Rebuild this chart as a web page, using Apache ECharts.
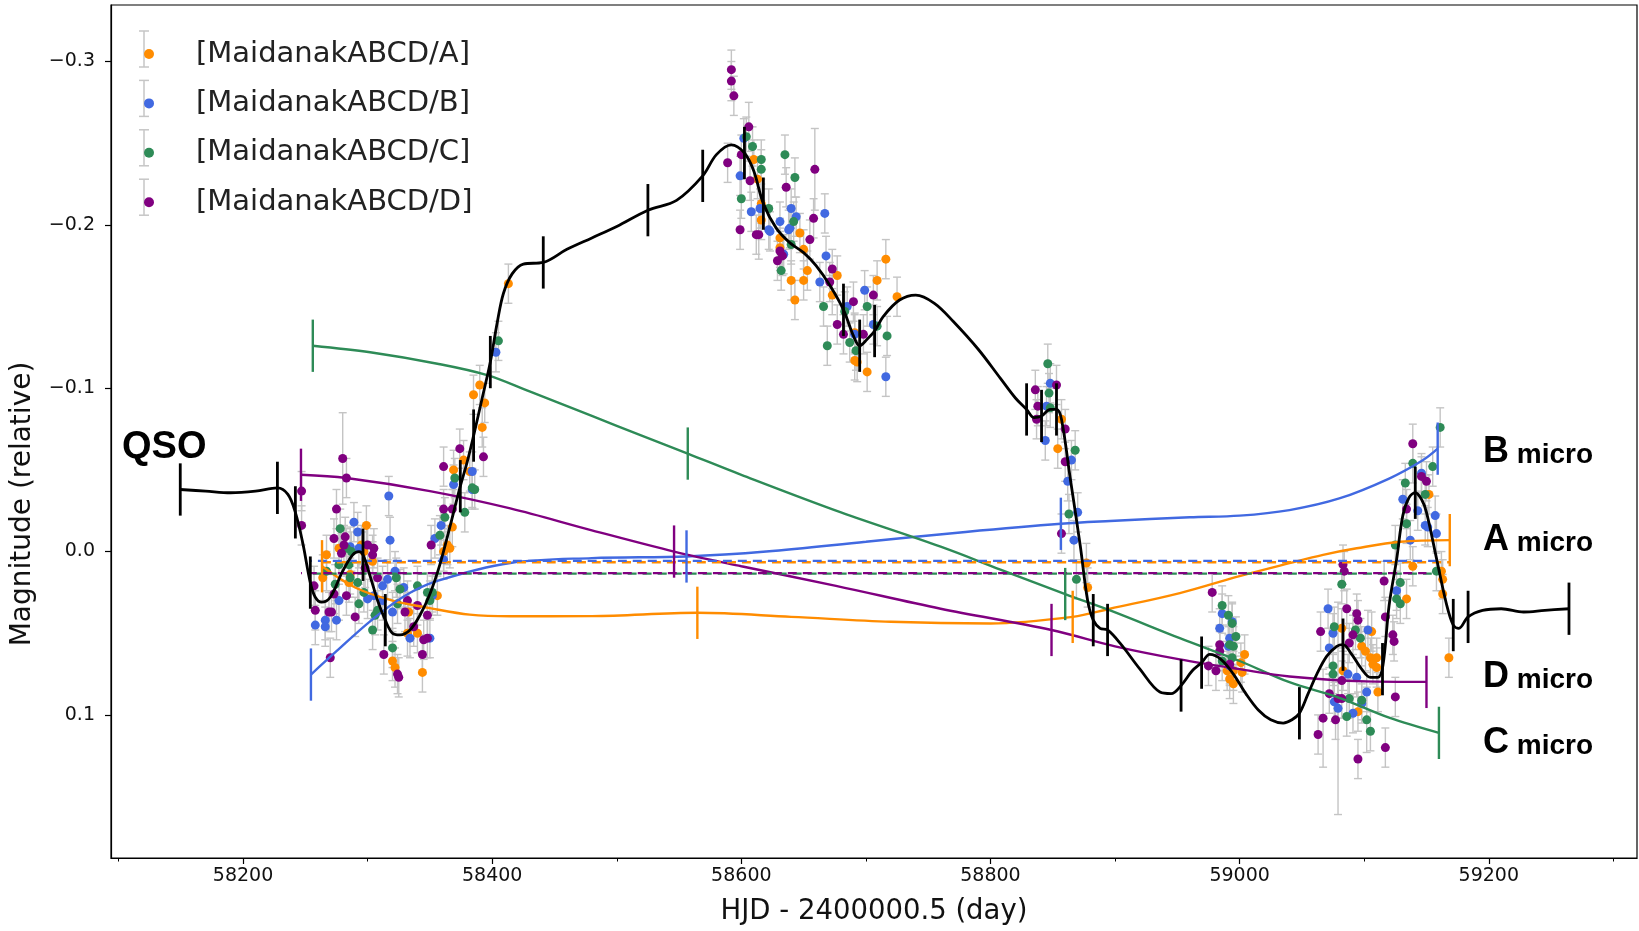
<!DOCTYPE html>
<html>
<head>
<meta charset="utf-8">
<title>Maidanak ABCD light curves</title>
<script src="https://cdn.jsdelivr.net/npm/echarts@6/dist/echarts.min.js"></script>
</head>
<body style="margin:0">
<div id="container" style="width:1639px;height:931px"></div>
<script>
// axis ticks
var tickX = [58200, 58400, 58600, 58800, 59000, 59200];
var minorTickX = [58100, 58300, 58500, 58700, 58900, 59100, 59300];
var tickY = [-0.3, -0.2, -0.1, 0.0, 0.1];

// photometry [HJD, mag, err]
var ptsA = [[58267,0.002,0.012],[58264,0.016,0.014],[58277,-0.002,0.012],[58286,0.014,0.012],[58285,0.019,0.012],[58299,-0.016,0.012],[58295,-0.004,0.012],[58297,0.000,0.012],[58304,0.006,0.012],[58333,0.037,0.012],[58340,0.050,0.012],[58332,0.050,0.014],[58320,0.067,0.012],[58322,0.071,0.012],[58344,0.074,0.012],[58356,0.027,0.012],[58364,-0.004,0.012],[58361,0.000,0.012],[58366,-0.002,0.012],[58368,-0.015,0.012],[58369,-0.050,0.012],[58377,-0.056,0.012],[58382,-0.049,0.012],[58385,-0.096,0.012],[58390,-0.102,0.012],[58394,-0.091,0.012],[58392,-0.076,0.012],[58413,-0.164,0.012],
  [58610,-0.240,0.012],[58613,-0.228,0.012],[58616,-0.213,0.012],[58616,-0.203,0.012],[58631,-0.192,0.012],[58631,-0.186,0.012],[58647,-0.195,0.012],[58650,-0.185,0.012],[58653,-0.172,0.012],[58640,-0.166,0.012],[58650,-0.166,0.012],[58643,-0.154,0.012],[58677,-0.169,0.012],[58673,-0.157,0.012],[58709,-0.166,0.012],[58716,-0.179,0.012],[58725,-0.156,0.012],[58691,-0.134,0.012],[58691,-0.117,0.012],[58693,-0.116,0.012],[58701,-0.110,0.012],
  [58857,-0.081,0.012],[58854,-0.063,0.012],[58877,0.007,0.012],[58878,0.022,0.012],
  [59004,0.063,0.012],[59001,0.068,0.012],[58995,0.073,0.012],[58992,0.078,0.012],[58995,0.081,0.012],[59002,0.074,0.012],[58990,0.073,0.012],
  [59139,0.009,0.012],[59134,0.029,0.012],[59162,0.012,0.012],[59163,0.017,0.012],[59163,0.026,0.012],[59168,0.065,0.012],[59152,-0.035,0.012],[59082,0.047,0.012],[59098,0.058,0.012],[59101,0.061,0.012],[59105,0.065,0.012],[59107,0.069,0.012],[59106,0.049,0.012],[59110,0.071,0.012],[59110,0.065,0.012],[59095,0.098,0.012],[59111,0.086,0.012],[59083,0.073,0.012]];

var ptsB = [[58317,-0.034,0.012],[58318,-0.007,0.014],[58289,-0.018,0.012],[58286,-0.003,0.012],[58293,-0.002,0.012],[58292,-0.012,0.012],[58277,0.030,0.012],[58266,0.042,0.012],[58258,0.045,0.012],[58275,0.042,0.012],[58266,0.046,0.012],[58300,0.029,0.012],[58305,0.027,0.012],[58312,0.030,0.012],[58316,0.017,0.012],[58322,0.012,0.012],[58312,0.021,0.012],[58320,0.037,0.012],[58329,0.022,0.012],[58334,0.053,0.012],[58350,0.053,0.012],[58359,-0.016,0.012],[58369,-0.041,0.012],[58384,-0.038,0.012],[58361,0.005,0.012],[58354,-0.008,0.012],[58384,-0.049,0.012],[58403,-0.122,0.012],[58352,0.027,0.012],
  [58602,-0.253,0.012],[58599,-0.230,0.012],[58608,-0.208,0.012],[58615,-0.210,0.012],[58622,-0.197,0.012],[58623,-0.196,0.012],[58631,-0.202,0.012],[58638,-0.197,0.012],[58639,-0.198,0.012],[58640,-0.210,0.012],[58644,-0.205,0.012],[58667,-0.207,0.012],[58668,-0.181,0.012],[58663,-0.165,0.012],[58699,-0.160,0.012],[58685,-0.150,0.012],[58706,-0.139,0.012],[58691,-0.133,0.012],[58716,-0.107,0.012],[58634,-0.182,0.012],
  [58848,-0.103,0.012],[58845,-0.089,0.012],[58844,-0.068,0.012],[58865,-0.056,0.012],[58862,-0.043,0.012],[58870,-0.024,0.012],[58867,-0.007,0.012],
  [58986,0.038,0.012],[58984,0.047,0.012],[58994,0.043,0.012],[58992,0.053,0.012],[58991,0.058,0.012],[58992,0.070,0.012],
  [59146,-0.048,0.012],[59131,-0.032,0.012],[59143,-0.025,0.012],[59149,-0.016,0.012],[59151,-0.015,0.012],[59157,-0.022,0.012],[59158,-0.011,0.012],[59137,-0.007,0.012],[59126,0.024,0.012],[59071,0.035,0.012],[59075,0.050,0.012],[59072,0.059,0.012],[59103,0.048,0.012],[59094,0.077,0.012],[59102,0.086,0.012],[59087,0.075,0.012],[59076,0.092,0.012],[59079,0.096,0.065],[59091,0.099,0.012],[59098,0.093,0.012]];

var ptsC = [[58278,-0.014,0.012],[58283,-0.002,0.012],[58287,0.000,0.012],[58277,0.008,0.012],[58285,0.008,0.012],[58286,0.016,0.012],[58292,0.019,0.012],[58297,0.025,0.012],[58267,0.012,0.012],[58274,0.020,0.012],[58293,0.032,0.012],[58308,0.036,0.012],[58304,0.048,0.012],[58306,0.039,0.012],[58320,0.059,0.012],[58324,0.032,0.012],[58323,0.016,0.012],[58326,0.023,0.012],[58340,0.021,0.012],[58348,0.025,0.012],[58352,0.025,0.012],[58350,0.030,0.012],[58358,-0.010,0.012],[58362,-0.021,0.012],[58370,-0.045,0.012],[58384,-0.039,0.012],[58386,-0.038,0.012],[58378,-0.024,0.012],[58405,-0.129,0.012],
  [58604,-0.254,0.012],[58609,-0.248,0.012],[58616,-0.240,0.012],[58616,-0.234,0.012],[58600,-0.216,0.012],[58622,-0.210,0.012],[58635,-0.243,0.012],[58643,-0.229,0.012],[58642,-0.202,0.012],[58640,-0.188,0.012],[58632,-0.172,0.012],[58666,-0.150,0.012],[58683,-0.147,0.012],[58701,-0.150,0.012],[58709,-0.138,0.012],[58717,-0.132,0.012],[58669,-0.126,0.012],[58687,-0.128,0.012],[58692,-0.123,0.012],
  [58846,-0.115,0.012],[58847,-0.097,0.012],[58848,-0.088,0.012],[58868,-0.062,0.012],[58863,-0.023,0.012],[58869,0.017,0.012],
  [58986,0.033,0.012],[58991,0.039,0.012],[58994,0.044,0.012],[58997,0.052,0.012],[58992,0.057,0.012],[58995,0.058,0.012],[58994,0.065,0.012],[58986,0.067,0.012],
  [59161,-0.076,0.012],[59155,-0.052,0.012],[59139,-0.054,0.012],[59133,-0.042,0.012],[59149,-0.035,0.012],[59134,-0.017,0.012],[59125,-0.004,0.012],[59129,0.019,0.012],[59126,0.029,0.012],[59129,0.032,0.012],[59082,0.020,0.012],[59076,0.046,0.012],[59093,0.048,0.012],[59097,0.053,0.012],[59075,0.070,0.012],[59075,0.075,0.012],[59088,0.090,0.012],[59098,0.091,0.012],[59102,0.103,0.020],[59086,0.101,0.012],[59105,0.110,0.012],[59158,0.012,0.012]];

var ptsD = [[58280,-0.057,0.028],[58283,-0.045,0.012],[58247,-0.037,0.012],[58247,-0.016,0.012],[58275,-0.026,0.012],[58273,-0.008,0.012],[58282,-0.009,0.012],[58279,0.001,0.012],[58281,-0.004,0.012],[58257,0.021,0.012],[58273,0.026,0.012],[58283,0.027,0.012],[58269,0.037,0.012],[58271,0.037,0.012],[58258,0.036,0.012],[58290,0.040,0.012],[58300,-0.004,0.012],[58304,0.002,0.012],[58305,-0.002,0.012],[58298,0.010,0.012],[58361,-0.052,0.012],[58374,-0.063,0.012],[58361,-0.026,0.012],[58351,-0.004,0.012],[58368,-0.026,0.012],[58393,-0.058,0.012],[58332,0.030,0.012],[58340,0.033,0.012],[58348,0.039,0.012],[58337,0.046,0.012],[58345,0.054,0.012],[58348,0.053,0.012],[58313,0.063,0.012],[58324,0.075,0.012],[58325,0.077,0.012],[58344,0.063,0.012],[58270,0.065,0.012],[58330,0.037,0.012],[58308,0.016,0.012],
  [58592,-0.295,0.012],[58592,-0.288,0.012],[58594,-0.279,0.012],[58606,-0.260,0.015],[58589,-0.238,0.012],[58600,-0.243,0.012],[58607,-0.227,0.012],[58599,-0.197,0.012],[58612,-0.194,0.012],[58614,-0.194,0.015],[58636,-0.223,0.012],[58659,-0.234,0.025],[58658,-0.204,0.012],[58655,-0.191,0.012],[58631,-0.184,0.012],[58629,-0.178,0.012],[58633,-0.181,0.012],[58673,-0.173,0.012],[58671,-0.165,0.012],[58690,-0.153,0.012],[58706,-0.157,0.012],[58677,-0.139,0.012],[58682,-0.133,0.012],[58698,-0.133,0.012],
  [58836,-0.099,0.012],[58838,-0.089,0.012],[58837,-0.081,0.012],[58853,-0.102,0.012],[58860,-0.075,0.012],[58860,-0.055,0.012],[58857,-0.011,0.012],
  [58978,0.025,0.012],[58984,0.057,0.012],[58984,0.061,0.012],[58975,0.070,0.012],[58981,0.073,0.012],[58992,0.069,0.012],
  [59083,0.008,0.012],[59084,0.012,0.012],[59086,0.035,0.012],[59094,0.038,0.012],[59095,0.042,0.012],[59091,0.051,0.012],[59065,0.049,0.012],[59088,0.056,0.012],[59072,0.087,0.012],[59079,0.090,0.012],[59082,0.090,0.012],[59067,0.102,0.030],[59063,0.112,0.012],[59077,0.103,0.012],[59095,0.127,0.012],[59117,0.120,0.012],[59125,0.089,0.012],[59116,0.018,0.012],[59117,0.040,0.012],[59123,0.051,0.012],[59124,0.055,0.012],[59139,-0.066,0.012],[59146,-0.046,0.012],[59150,-0.043,0.012],[59134,-0.026,0.012],[59082,0.079,0.012]];

// QSO intrinsic curve and its knots
var qsoCurve = [[58149.6,-0.038],[58170,-0.037],[58190,-0.036],[58210,-0.037],[58227.6,-0.039],[58236,-0.035],[58242,-0.024],[58248,-0.005],[58254,0.019],[58258,0.028],[58263,0.031],[58270,0.028],[58280,0.012],[58288,0.002],[58293,0.000],[58296.3,0.002],[58302,0.015],[58308,0.030],[58314.2,0.042],[58320,0.050],[58326,0.051],[58334,0.048],[58342,0.039],[58350,0.026],[58358,0.008],[58366,-0.015],[58374.4,-0.040],[58380,-0.055],[58385.1,-0.071],[58392,-0.094],[58398.5,-0.116],[58404,-0.140],[58409,-0.158],[58416,-0.170],[58425,-0.176],[58441,-0.177],[58460,-0.185],[58480,-0.192],[58500,-0.199],[58525,-0.209],[58548,-0.215],[58569,-0.230],[58580,-0.243],[58592,-0.249],[58602.5,-0.244],[58610,-0.233],[58617.7,-0.213],[58628,-0.198],[58639,-0.189],[58650,-0.183],[58660,-0.175],[58671,-0.163],[58682,-0.148],[58690,-0.132],[58695,-0.126],[58701,-0.130],[58707,-0.135],[58714,-0.144],[58727,-0.154],[58740,-0.157],[58755,-0.152],[58770,-0.141],[58790,-0.124],[58808,-0.106],[58820,-0.094],[58829,-0.087],[58835,-0.082],[58841,-0.083],[58848,-0.087],[58853,-0.087],[58857,-0.081],[58864,-0.045],[58872,-0.004],[58878,0.030],[58882.5,0.042],[58888,0.047],[58894,0.048],[58905,0.057],[58920,0.072],[58936,0.086],[58945,0.087],[58953,0.082],[58962,0.073],[58969.5,0.068],[58976,0.063],[58985,0.066],[58995,0.075],[59005,0.087],[59015,0.097],[59025,0.103],[59035,0.105],[59042,0.103],[59048,0.099],[59055,0.087],[59062,0.075],[59070,0.064],[59078,0.058],[59083,0.057],[59090,0.063],[59098,0.072],[59105,0.077],[59111,0.077],[59115,0.070],[59120,0.033],[59126,0.005],[59131,-0.022],[59136,-0.033],[59141,-0.036],[59146,-0.032],[59150,-0.024],[59158,0.004],[59166,0.032],[59171.5,0.045],[59176,0.047],[59183.4,0.040],[59195,0.036],[59210,0.035],[59228,0.037],[59245,0.036],[59264.4,0.035]];
var qsoKnots = [[58149.6,-0.038],[58227.6,-0.039],[58242,-0.024],[58254,0.019],[58296.3,0.002],[58314.2,0.042],[58374.4,-0.040],[58385.1,-0.071],[58398.5,-0.116],[58441,-0.177],[58525,-0.209],[58569,-0.230],[58602.5,-0.244],[58617.7,-0.213],[58682,-0.148],[58695,-0.126],[58707,-0.135],[58829,-0.087],[58841,-0.083],[58853,-0.087],[58882.5,0.042],[58894,0.048],[58953,0.082],[58969.5,0.068],[59048,0.099],[59083,0.057],[59114.7,0.072],[59141,-0.036],[59171.5,0.045],[59183.4,0.040],[59264.4,0.035]];

// microlensing curves per image
var microA = [[58263.4,0.009],[58290,0.022],[58320,0.030],[58350,0.0346],[58382,0.0386],[58414.5,0.0396],[58480,0.0395],[58564.7,0.0375],[58640,0.040],[58720,0.043],[58800,0.044],[58866,0.040],[58896,0.035],[58952,0.0254],[59000,0.015],[59040,0.0071],[59067,0.002],[59094,-0.002],[59129,-0.006],[59168.7,-0.007]];
var knotsA = [[58263.4,0.009],[58564.7,0.0375],[58866,0.040],[59168.7,-0.007]];
var microB = [[58254.5,0.0753],[58275,0.061],[58302,0.0427],[58329,0.0275],[58356,0.018],[58414.5,0.007],[58480,0.004],[58556,0.003],[58620,0.0],[58700,-0.006],[58780,-0.012],[58856.5,-0.017],[58896,-0.0187],[58960,-0.021],[59000,-0.022],[59040,-0.0254],[59080,-0.0325],[59120,-0.0447],[59147,-0.0559],[59159,-0.063]];
var knotsB = [[58254.5,0.0753],[58556,0.003],[58856.5,-0.017],[59159,-0.063]];
var microC = [[58256,-0.126],[58302,-0.122],[58356,-0.115],[58396,-0.108],[58430,-0.098],[58480,-0.083],[58520,-0.071],[58557,-0.060],[58600,-0.047],[58680,-0.024],[58760,-0.003],[58808,0.011],[58860,0.026],[58896,0.036],[58952,0.053],[59000,0.067],[59040,0.080],[59080,0.0895],[59120,0.1017],[59160,0.111]];
var knotsC = [[58256,-0.126],[58557,-0.060],[58860,0.026],[59160,0.111]];
var microD = [[58246.5,-0.047],[58283,-0.045],[58350,-0.037],[58414.5,-0.0264],[58480,-0.013],[58546,0.0],[58600,0.009],[58676,0.021],[58760,0.035],[58849,0.048],[58900,0.058],[58952,0.066],[59000,0.072],[59040,0.0765],[59100,0.0795],[59150,0.0798]];
var knotsD = [[58246.5,-0.047],[58546,0.0],[58849,0.048],[59150,0.0798]];

// constant offsets (dashed)
var dashA = [[58263.4,0.0065],[59168.7,0.0065]];
var dashB = [[58254.5,0.0057],[59159,0.0057]];
var dashC = [[58256,0.0135],[59160,0.0135]];
var dashD = [[58246.5,0.0132],[59150,0.0132]];

var names = ['[MaidanakABCD/A]', '[MaidanakABCD/B]', '[MaidanakABCD/C]', '[MaidanakABCD/D]'];
var colors = ['#ff8c00', '#4169e1', '#2e8b57', '#800080'];

var KNOT_H = 0.016;
var TXT = '"DejaVu Sans", sans-serif';
var ANN = '"Liberation Sans", Arial, sans-serif';

function errRender(params, api) {
  var x = api.value(0), y = api.value(1), e = api.value(2);
  var p1 = api.coord([x, y - e]), p2 = api.coord([x, y + e]);
  var st = {stroke: '#c4c4c4', lineWidth: 1.4};
  return {type: 'group', children: [
    {type: 'line', shape: {x1: p1[0], y1: p1[1], x2: p2[0], y2: p2[1]}, style: st},
    {type: 'line', shape: {x1: p1[0] - 4, y1: p1[1], x2: p1[0] + 4, y2: p1[1]}, style: st},
    {type: 'line', shape: {x1: p2[0] - 4, y1: p2[1], x2: p2[0] + 4, y2: p2[1]}, style: st}
  ]};
}

function knotSeries(data, color, width) {
  return {
    type: 'custom', data: data, z: 6, silent: true, encode: {x: 0, y: 1},
    renderItem: function (params, api) {
      var x = api.value(0), y = api.value(1);
      var a = api.coord([x, y - KNOT_H]), b = api.coord([x, y + KNOT_H]);
      return {type: 'line', shape: {x1: a[0], y1: a[1], x2: b[0], y2: b[1]},
        style: {stroke: color, lineWidth: width}};
    }
  };
}

function lineSeries(data, color, width, z, dash, dashOffset) {
  return {
    type: 'line', data: data, smooth: 0.35, showSymbol: false, silent: true, z: z,
    lineStyle: {color: color, width: width, type: dash || 'solid', dashOffset: dashOffset || 0}
  };
}

var pts = [ptsA, ptsB, ptsC, ptsD];
var micro = [microA, microB, microC, microD];
var knots = [knotsA, knotsB, knotsC, knotsD];

var allPts = [].concat(ptsA, ptsB, ptsC, ptsD);

var series = [{type: 'custom', data: allPts, renderItem: errRender, z: 1, silent: true, encode: {x: 0, y: 1}}];
for (var i = 0; i < 4; i++) {
  series.push({
    name: names[i], type: 'scatter', z: 2, symbolSize: 9,
    data: pts[i].map(function (p) { return [p[0], p[1]]; }),
    itemStyle: {color: colors[i], opacity: 1}
  });
}
for (var i = 0; i < 4; i++) {
  series.push(lineSeries(micro[i], colors[i], 2.4, 4));
  series.push(knotSeries(knots[i], colors[i], 2.4));
}
series.push(lineSeries(dashA, colors[0], 2.4, 4, [9, 6], 0));
series.push(lineSeries(dashB, colors[1], 2.4, 4, [9, 6], 8));
series.push(lineSeries(dashC, colors[2], 2.4, 4, [9, 6], 0));
series.push(lineSeries(dashD, colors[3], 2.4, 4, [9, 6], 8));
series.push(lineSeries(qsoCurve, '#000', 2.8, 5));
series.push(knotSeries(qsoKnots, '#000', 2.8));

// legend error-bar handles
var LEG_X = 144, LEG_Y0 = 49, LEG_STEP = 49.4;
var legendBars = [];
for (var i = 0; i < 4; i++) {
  var cy = LEG_Y0 + i * LEG_STEP;
  legendBars.push({type: 'line', z: 1, shape: {x1: LEG_X, y1: cy - 18, x2: LEG_X, y2: cy + 18}, style: {stroke: '#c6c6c6', lineWidth: 1.5}});
  legendBars.push({type: 'line', z: 1, shape: {x1: LEG_X - 5, y1: cy - 18, x2: LEG_X + 5, y2: cy - 18}, style: {stroke: '#c6c6c6', lineWidth: 1.5}});
  legendBars.push({type: 'line', z: 1, shape: {x1: LEG_X - 5, y1: cy + 18, x2: LEG_X + 5, y2: cy + 18}, style: {stroke: '#c6c6c6', lineWidth: 1.5}});
}

function microLabel(letter, y) {
  return {type: 'text', x: 1483, y: y, z: 10, style: {
    text: '{b|' + letter + '}{m| micro}', verticalAlign: 'middle', fill: '#000',
    rich: {b: {font: 'bold 36px ' + ANN, verticalAlign: 'bottom'}, m: {font: 'bold 28px ' + ANN, verticalAlign: 'bottom', padding: [0, 0, 1, 0]}}
  }};
}

var graphics = legendBars.concat([
  {type: 'text', x: 23, y: 504, rotation: Math.PI / 2, z: 10, style: {
    text: 'Magnitude (relative)', font: '28px ' + TXT, fill: '#111', align: 'center', verticalAlign: 'middle'}},
  {type: 'text', x: 122, y: 448, z: 10, style: {
    text: 'QSO', font: 'bold 38px ' + ANN, fill: '#000', verticalAlign: 'middle'}},
  microLabel('B', 452),
  microLabel('A', 540),
  microLabel('D', 677),
  microLabel('C', 743)
]);

function fmtY(v) {
  var s = Math.abs(v).toFixed(1);
  return v < -1e-9 ? '\u2212' + s : s;
}
function fmtX(v) {
  return String(Math.round(v));
}

var chart = echarts.init(document.getElementById('container'));
var option = {
  animation: false,
  backgroundColor: '#fff',
  grid: {left: 111, right: 2, top: 5, bottom: 70, show: true, borderColor: '#000', borderWidth: 1.2, backgroundColor: 'transparent'},
  legend: {
    data: names, orient: 'vertical', left: 139, top: 34, itemWidth: 10, itemHeight: 10,
    itemGap: 19.4, icon: 'circle', selectedMode: false,
    textStyle: {fontFamily: TXT, fontSize: 29, lineHeight: 30, color: '#222', padding: [0, 0, 0, 37]}
  },
  xAxis: [{
    type: 'value', min: 58094, max: 59319, position: 'bottom',
    name: 'HJD - 2400000.5 (day)', nameLocation: 'middle', nameGap: 40,
    nameTextStyle: {fontFamily: TXT, fontSize: 27.5, color: '#111'},
    axisLine: {show: true, onZero: false, lineStyle: {color: '#000', width: 1.2}},
    axisTick: {show: true, length: 6, lineStyle: {color: '#000', width: 1.2}, customValues: tickX},
    axisLabel: {fontFamily: TXT, fontSize: 19, color: '#111', margin: 9, customValues: tickX, formatter: fmtX},
    splitLine: {show: false}
  }, {
    type: 'value', min: 58094, max: 59319, position: 'bottom',
    axisLine: {show: false, onZero: false},
    axisTick: {show: true, length: 3.5, lineStyle: {color: '#000', width: 1}, customValues: minorTickX},
    axisLabel: {show: false},
    splitLine: {show: false}
  }],
  yAxis: {
    type: 'value', min: -0.3346, max: 0.1876, inverse: true,
    axisLine: {show: true, onZero: false, lineStyle: {color: '#000', width: 1.2}},
    axisTick: {show: true, length: 6, lineStyle: {color: '#000', width: 1.2}, customValues: tickY},
    axisLabel: {fontFamily: TXT, fontSize: 19, color: '#111', margin: 16, customValues: tickY, formatter: fmtY},
    splitLine: {show: false}
  },
  graphic: graphics,
  series: series
};
chart.setOption(option);
</script>
</body>
</html>
